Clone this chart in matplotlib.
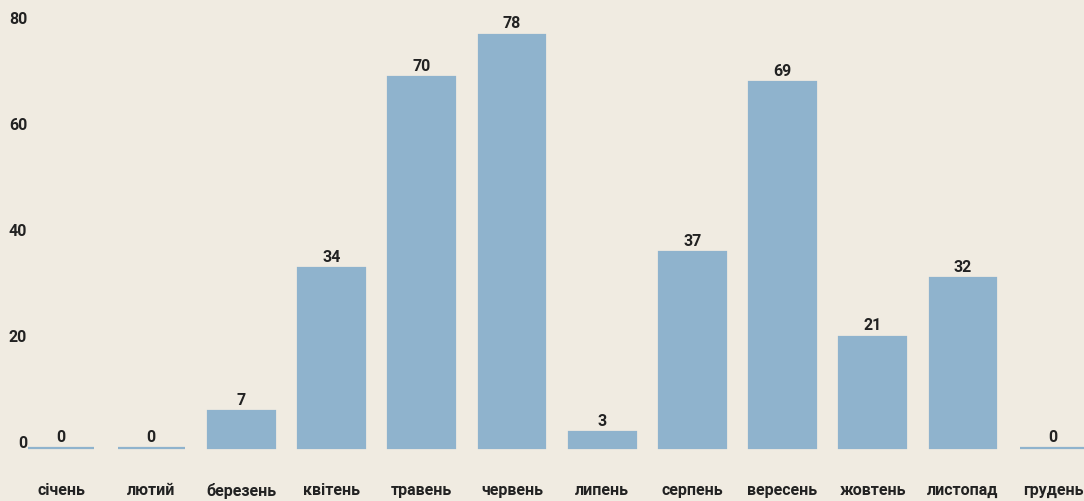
import matplotlib.pyplot as plt
import matplotlib.transforms as mtransforms

# дані
months = ["січень", "лютий", "березень", "квітень", "травень", "червень",
          "липень", "серпень", "вересень", "жовтень", "листопад", "грудень"]
values = [0, 0, 7, 34, 70, 78, 3, 37, 69, 21, 32, 0]
y_ticks = [0, 20, 40, 60, 80]

bg = "#f0ebe1"
bar_color = "#8fb3cd"
txt = "#222222"

plt.rcParams['font.family'] = ['Roboto', 'DejaVu Sans']

fig = plt.figure(figsize=(10.84, 5.01), dpi=100, facecolor=bg)
# осі: 0 на y=448 px, 80 на y=24 px
ax = fig.add_axes([0, (501 - 448) / 501, 1, 424 / 501])
ax.set_facecolor(bg)

x = list(range(len(months)))
bars = ax.bar(x, values, width=0.74, color=bar_color, edgecolor=bar_color, linewidth=1.6)
for b in bars:
    b.set_clip_on(False)  # щоб нульові стовпчики було видно як лінію

for xi, v in zip(x, values):
    ax.annotate(str(v), (xi, v), xytext=(0, 4.5), textcoords="offset points",
                ha="center", va="baseline", fontsize=11.5, fontweight="bold",
                color=txt)

ax.set_xlim(-0.676, 11.342)
ax.set_ylim(0, 80)

ax.set_xticks(x)
ax.set_xticklabels(months, fontsize=11.5, fontweight="bold", color=txt)
ax.set_yticks(y_ticks)
ax.set_yticklabels([str(t) for t in y_ticks], fontsize=11.5, fontweight="bold", color=txt)
ax.tick_params(axis="x", length=0, pad=25)
ax.tick_params(axis="y", length=0, pad=-19.5)

shift = mtransforms.ScaledTranslation(0, 4 / 72, fig.dpi_scale_trans)
for lbl in ax.get_yticklabels():
    lbl.set_horizontalalignment("right")
    lbl.set_verticalalignment("center_baseline")
    lbl.set_transform(lbl.get_transform() + shift)

for s in ax.spines.values():
    s.set_visible(False)

fig.savefig("out.png", dpi=100, facecolor=bg)
